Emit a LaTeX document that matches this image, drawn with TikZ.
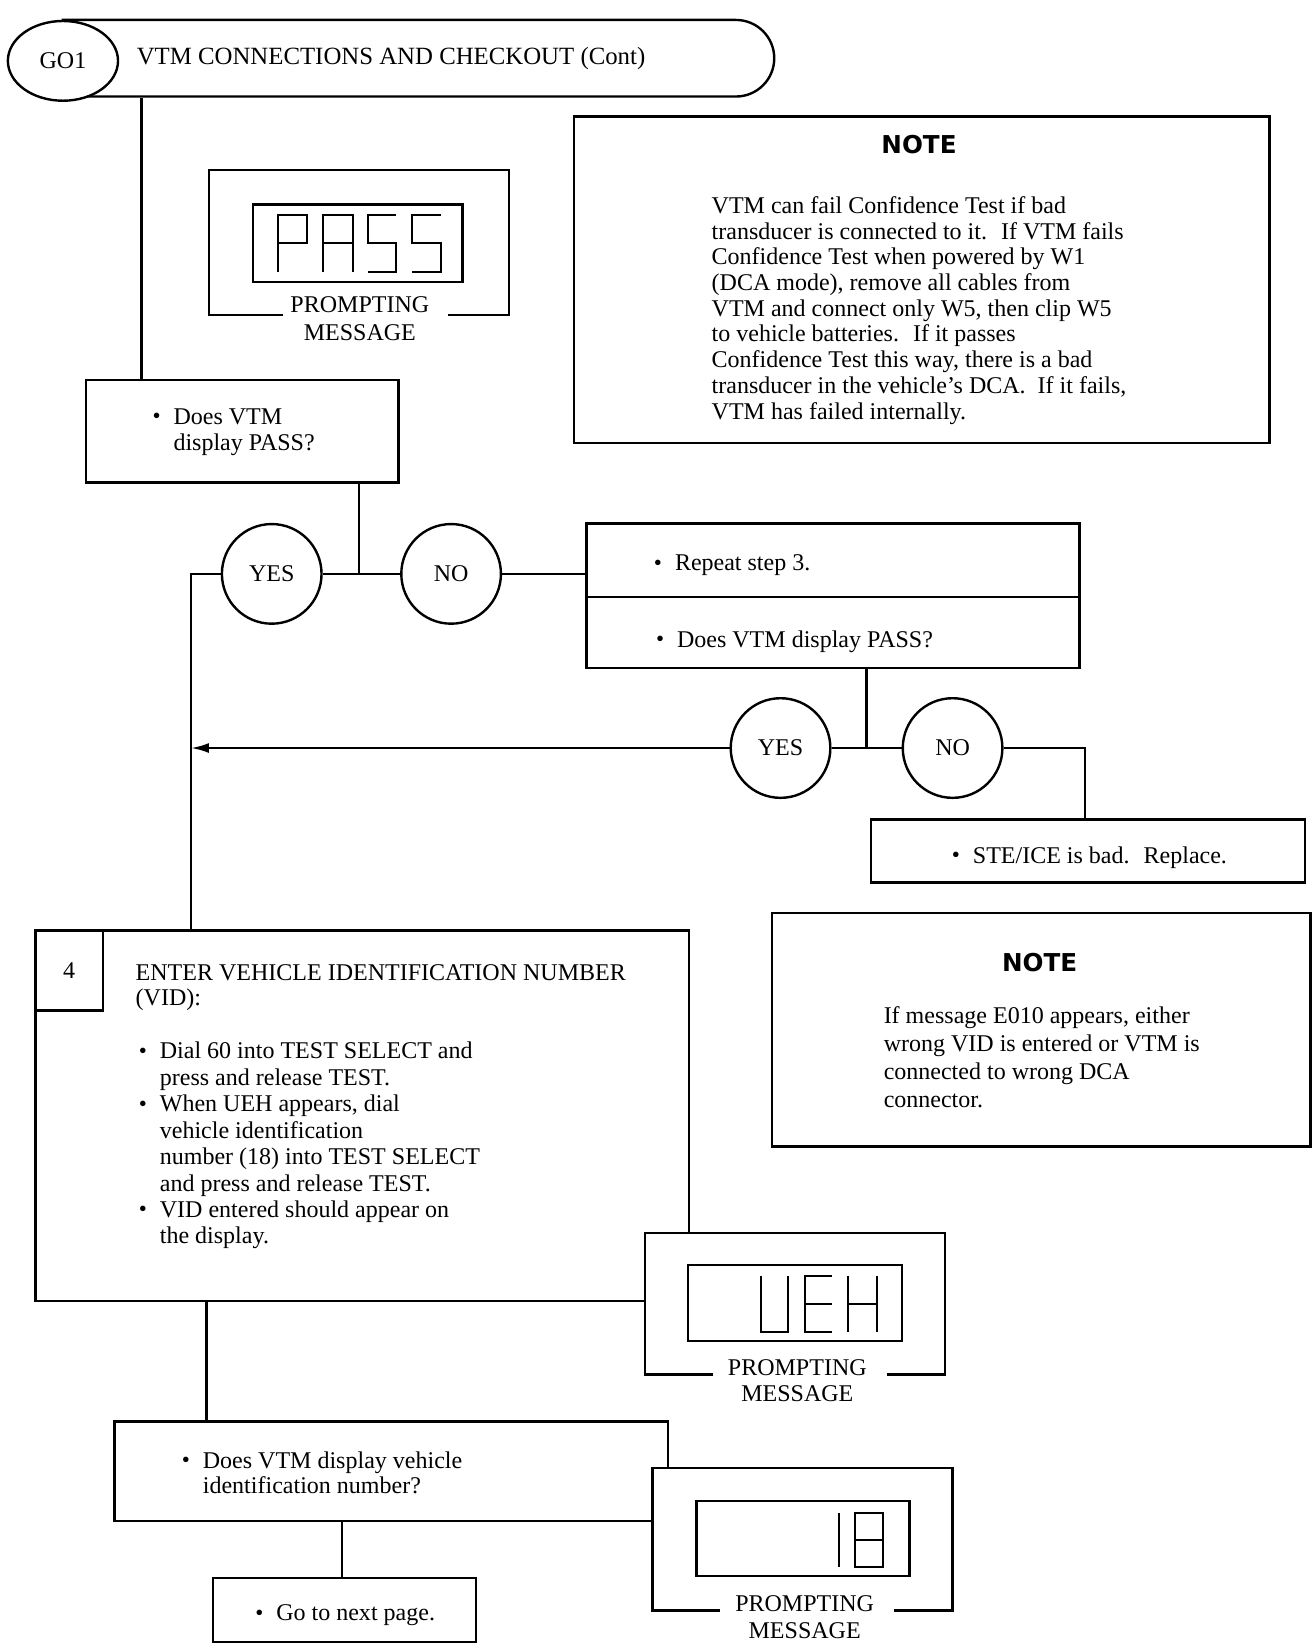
\documentclass[tikz,border=0pt]{standalone}
\usepackage{fontspec}
\setmainfont{Liberation Serif}
\newfontfamily\notefont{DejaVu Sans}
\usetikzlibrary{shapes.geometric,shapes.misc,arrows.meta}
\newcommand{\bu}{\makebox[10.5pt][l]{\raisebox{0.3pt}{\fontsize{11.5}{11.5}\selectfont\textbullet}}}
\newcommand{\ind}{\hspace*{10.5pt}}
\newcommand{\tf}[1]{\fontsize{12}{#1}\selectfont}
\newcommand{\placebox}[6][]{\node[box, minimum width={(#5-#3)*0.5244pt}, minimum height={(#6-#4)*0.5244pt}] (#2) at ({(#3+#5)/2},{(#4+#6)/2}) {#1};}
\begin{document}
\begin{tikzpicture}[x=0.5244pt, y=-0.5244pt,
  ln/.style={line width=1.2pt},
  box/.style={draw, rectangle, line width=1.2pt, inner sep=0pt, outer sep=0pt, font=\tf{14pt}},
  yn/.style={draw, circle, line width=1.2pt, minimum size=49.8pt, inner sep=0pt, fill=white, font=\tf{14pt}},
  seg/.style={line width=1pt, line join=miter},
  txt/.style={inner sep=0pt, align=left, anchor=north west},
  one/.style={inner sep=0pt, anchor=base west, font=\tf{14pt}},
  lbl/.style={inner sep=0pt, align=center, anchor=north},
  notehead/.style={inner sep=0pt, font=\notefont\bfseries\fontsize{12.3}{14}\selectfont}]
\useasboundingbox (0,0) rectangle (1251,1568);

% ---------- title ----------
\node[draw, rounded rectangle, rounded rectangle left arc=none, line width=1.2pt,
      minimum width={678*0.5244pt}, minimum height={73*0.5244pt}, inner sep=0pt] (pill) at (399,55.5) {};
\node[draw, ellipse, line width=1.2pt, fill=white, minimum width={105*0.5244pt},
      minimum height={76*0.5244pt}, inner sep=0pt, font=\tf{14pt}] (go1) at (60,58) {GO1};
\node[one, font=\fontsize{12.4}{14}\selectfont] (title) at (130,61) {VTM CONNECTIONS AND CHECKOUT (Cont)};

% ---------- boxes ----------
\placebox{box1}{82}{362}{380}{460}
\placebox{note1}{547}{111}{1210}{422}
\placebox{rep}{559}{499}{1029}{569}
\placebox{rep2}{559}{569}{1029}{637}
\placebox{ste}{830}{781}{1244}{841}
\placebox{note2}{736}{870}{1249}{1093}
\placebox{box4}{34}{887}{657}{1240}
\placebox[4]{cell4}{34}{887}{98}{963}
\placebox{box5}{109}{1355}{637}{1450}
\placebox{go}{203}{1504}{454}{1565}

% ---------- prompting message frames ----------
\fill[white] (199,162) rectangle (485,300);
\draw[ln] (270,300) -- (199,300) -- (199,162) -- (485,162) -- (485,300) -- (427,300);
\placebox{disp1}{241}{195}{441}{269}
\fill[white] (615,1175) rectangle (901,1310);
\draw[ln] (680,1310) -- (615,1310) -- (615,1175) -- (901,1175) -- (901,1310) -- (845,1310);
\placebox{disp2}{656}{1206}{860}{1278}
\fill[white] (622,1399) rectangle (908,1535);
\draw[ln] (686,1535) -- (622,1535) -- (622,1399) -- (908,1399) -- (908,1535) -- (852,1535);
\placebox{disp3}{664}{1431}{867}{1502}

% segment letters PASS
\draw[seg] (265,259) -- (265,205) -- (293,205) -- (293,232) -- (265,232);
\draw[seg] (308,259) -- (308,205) -- (336,205) -- (336,259) (308,232) -- (336,232);
\draw[seg] (377,205) -- (351,205) -- (351,232) -- (377,232) -- (377,259) -- (351,259);
\draw[seg] (420,205) -- (393,205) -- (393,232) -- (420,232) -- (420,259) -- (393,259);
% UEH
\draw[seg] (725,1216) -- (725,1270) -- (751,1270) -- (751,1216);
\draw[seg] (793,1216) -- (767,1216) -- (767,1270) -- (793,1270) (767,1243) -- (793,1243);
\draw[seg] (808,1216) -- (808,1270) (836,1216) -- (836,1270) (808,1243) -- (836,1243);
% 18
\draw[seg] (800,1442) -- (800,1494);
\draw[seg] (815,1442) rectangle (842,1494) (815,1468) -- (842,1468);

\node[lbl, font=\tf{13.9pt}] (pm1) at (343,279) {\strut PROMPTING\\MESSAGE};
\node[lbl, font=\tf{13.1pt}] (pm2) at (760,1293.5) {\strut PROMPTING\\MESSAGE};
\node[lbl, font=\tf{13.1pt}] (pm3) at (767,1518.5) {\strut PROMPTING\\MESSAGE};

% ---------- decision circles ----------
\node[yn] (yes1) at (259,547) {YES};
\node[yn] (no1) at (430,547) {NO};
\node[yn] (yes2) at (744,713) {YES};
\node[yn] (no2) at (908,713) {NO};

% ---------- texts ----------
\node[txt, font=\tf{13.1pt}] (t1) at (145,386.5) {\strut\bu Does VTM\\ \ind display PASS?};
\node[one] (t2) at (623,544) {\bu Repeat step 3.};
\node[one] (t3) at (625,617) {\bu Does VTM display PASS?};
\node[one] (t4) at (907,823) {\bu STE/ICE is bad.~ Replace.};
\node[notehead] (n1h) at (876,138) {NOTE};
\node[txt, font=\tf{12.85pt}] (n1b) at (678,185.9) {\strut VTM can fail Confidence Test if bad\\
transducer is connected to it.~ If VTM fails\\
Confidence Test when powered by W1\\
(DCA mode), remove all cables from\\
VTM and connect only W5, then clip W5\\
to vehicle batteries.~ If it passes\\
Confidence Test this way, there is a bad\\
transducer in the vehicle's DCA.~ If it fails,\\
VTM has failed internally.};
\node[notehead] (n2h) at (991,917) {NOTE};
\node[txt, font=\tf{14pt}] (n2b) at (842,956.3) {\strut If message E010 appears, either\\
wrong VID is entered or VTM is\\
connected to wrong DCA\\
connector.};
\node[txt, font=\tf{12.6pt}] (h4) at (129,917.2) {\strut ENTER VEHICLE IDENTIFICATION NUMBER\\(VID):};
\node[txt, font=\tf{13.2pt}] (b4) at (132,991.4) {\strut\bu Dial 60 into TEST SELECT and\\
\ind press and release TEST.\\
\bu When UEH appears, dial\\
\ind vehicle identification\\
\ind number (18) into TEST SELECT\\
\ind and press and release TEST.\\
\bu VID entered should appear on\\
\ind the display.};
\node[txt, font=\tf{12.6pt}] (t5) at (173,1382.2) {\strut\bu Does VTM display vehicle\\ \ind identification number?};
\node[one] (t6) at (243,1545) {\bu Go to next page.};

% ---------- connectors ----------
\coordinate (m0) at (135,0);
\draw[ln] (pill.south -| m0) -- (box1.north -| m0);
\coordinate (J1) at (342,547);
\draw[ln] (box1.south -| J1) -- (J1);
\draw[ln] (yes1.east) -- (no1.west);
\draw[ln] (no1.east) -- (no1.east -| rep.west);
\coordinate (L1) at (182,547);
\draw[ln] (yes1.west) -- (L1) -- (L1 |- box4.north);
\coordinate (J2) at (826,713);
\draw[ln] (rep2.south -| J2) -- (J2);
\draw[ln] (yes2.east) -- (no2.west);
\draw[ln, -{Latex[length=9pt, width=5pt]}] (yes2.west) -- (yes2.west -| L1);
\coordinate (K) at (1034,713);
\draw[ln] (no2.east) -- (K) -- (K |- ste.north);
\coordinate (m1) at (197,0);
\draw[ln] (box4.south -| m1) -- (box5.north -| m1);
\coordinate (m2) at (326,0);
\draw[ln] (box5.south -| m2) -- (go.north -| m2);
\end{tikzpicture}
\end{document}
